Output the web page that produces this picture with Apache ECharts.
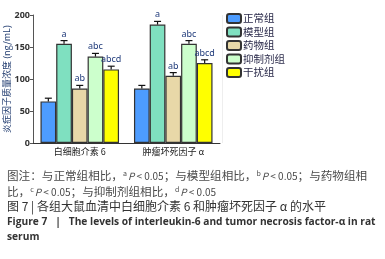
<!DOCTYPE html>
<html>
<head>
<meta charset="utf-8">
<script src="https://cdn.jsdelivr.net/npm/echarts@6/dist/echarts.min.js"></script>
<style>
  html, body { margin: 0; padding: 0; background: #fff; }
  #chart { width: 385px; height: 259px; }
</style>
</head>
<body>
<div id="chart"></div>
<script>
const categories = ['白细胞介素 6', '肿瘤坏死因子 α'];
const groupNames = ['正常组', '模型组', '药物组', '抑制剂组', '干扰组'];
const normalVals = [65, 85];
const modelVals = [155, 185];
const drugVals = [85, 105];
const inhibitorVals = [135, 155];
const interfereVals = [115, 125];
const normalErr = [5, 5];
const modelErr = [5, 5];
const drugErr = [5, 5];
const inhibitorErr = [5, 5];
const interfereErr = [5, 5];
const sigLabels = ['', 'a', 'ab', 'abc', 'abcd'];
const yTicks = [0, 50, 100, 150, 200];

const colors = ['#4d9cff', '#7fe0c0', '#e8d8a8', '#ccffcc', '#ffff00'];
const values = [normalVals, modelVals, drugVals, inhibitorVals, interfereVals];
const errors = [normalErr, modelErr, drugErr, inhibitorErr, interfereErr];
const catGap = 0.16;

const barSeries = groupNames.map((name, i) => ({
  name: name,
  type: 'bar',
  data: values[i],
  barGap: 0,
  barCategoryGap: (catGap * 100) + '%',
  itemStyle: { color: colors[i], borderColor: '#333', borderWidth: 1.2 },
  z: 2
}));

// error bars + significance letters
const errData = [];
groupNames.forEach((name, i) => {
  categories.forEach((c, j) => {
    errData.push([j, values[i][j], errors[i][j], i]);
  });
});

const errSeries = {
  type: 'custom',
  data: errData,
  z: 5,
  renderItem: function (params, api) {
    const cat = api.value(0);
    const v = api.value(1);
    const e = api.value(2);
    const gi = api.value(3);
    const bandW = api.size([1, 0])[0];
    const barW = bandW * (1 - catGap) / groupNames.length;
    const center = api.coord([cat, v]);
    const x = center[0] + (gi - (groupNames.length - 1) / 2) * barW;
    const top = api.coord([cat, v + e])[1];
    const base = center[1];
    const children = [
      { type: 'line', shape: { x1: x, y1: base, x2: x, y2: top }, style: { stroke: '#111', lineWidth: 1.2 } },
      { type: 'line', shape: { x1: x - 3.5, y1: top, x2: x + 3.5, y2: top }, style: { stroke: '#111', lineWidth: 1.2 } }
    ];
    if (sigLabels[gi]) {
      children.push({
        type: 'text',
        style: {
          text: sigLabels[gi], x: x, y: top - 2,
          align: 'center', verticalAlign: 'bottom',
          fill: '#1f3a7a', font: '9px "Noto Sans", sans-serif'
        }
      });
    }
    return { type: 'group', children: children };
  }
};

const capFont = '"Noto Sans CJK SC", "Noto Sans", sans-serif';
const capRich = {
  t: { fontSize: 11.6, fill: '#4a4a4a', fontFamily: capFont },
  l: { fontSize: 10, fill: '#4a4a4a', fontFamily: capFont },
  s: { fontSize: 7, fill: '#4a4a4a', fontFamily: capFont, verticalAlign: 'top', padding: [0, 1, 5, 0] },
  p: { fontSize: 10, fill: '#4a4a4a', fontStyle: 'italic', fontFamily: capFont }
};

const option = {
  animation: false,
  grid: { left: 33, right: 165, top: 15, bottom: 116 },
  legend: {
    orient: 'vertical',
    left: 226, top: 13,
    itemWidth: 14, itemHeight: 9, itemGap: 2.5,
    padding: 0,
    textStyle: { fontSize: 10.5, color: '#2a2a4a', fontFamily: capFont, padding: [0, 0, 0, -3] },
    data: groupNames
  },
  xAxis: {
    type: 'category',
    data: categories,
    axisLine: { lineStyle: { color: '#333', width: 1 } },
    axisTick: { show: false },
    axisLabel: { fontSize: 9, color: '#222', margin: 4, fontFamily: capFont }
  },
  yAxis: {
    type: 'value',
    min: yTicks[0], max: yTicks[yTicks.length - 1], interval: 50,
    name: '炎症因子质量浓度 (ng/mL)',
    nameLocation: 'middle', nameRotate: 90, nameGap: 19,
    nameTextStyle: { fontSize: 9, color: '#1f3a6e', fontFamily: capFont },
    axisLine: { show: true, lineStyle: { color: '#555', width: 1 } },
    axisTick: { show: true, length: 3, lineStyle: { color: '#555' } },
    axisLabel: { fontSize: 9, color: '#333', margin: 3, fontWeight: 'bold', fontFamily: '"Noto Sans", sans-serif' },
    splitLine: { show: false }
  },
  series: barSeries.concat([errSeries]),
  graphic: [
    { type: 'line', shape: { x1: 222.5, y1: 15, x2: 222.5, y2: 143 }, style: { stroke: '#eee', lineWidth: 1 } },
    {
      type: 'text', left: 7, top: 170,
      style: {
        text: '{t|图注：与正常组相比，}{s|a}{p|P}{l| < 0.05}{t|；与模型组相比，}{s|b}{p|P}{l| < 0.05}{t|；与药物组相}',
        rich: capRich
      }
    },
    {
      type: 'text', left: 7, top: 186,
      style: {
        text: '{t|比，}{s|c}{p|P}{l| < 0.05}{t|；与抑制剂组相比，}{s|d}{p|P}{l| < 0.05}',
        rich: capRich
      }
    },
    {
      type: 'text', left: 7, top: 200,
      style: { text: '图 7 | 各组大鼠血清中白细胞介素 6 和肿瘤坏死因子 α 的水平', font: '12px ' + capFont, fill: '#333' }
    },
    {
      type: 'text', left: 7, top: 217,
      style: { text: 'Figure 7   |   The levels of interleukin-6 and tumor necrosis factor-α in rat', font: 'bold 10.2px "Open Sans", sans-serif', fill: '#333' }
    },
    {
      type: 'text', left: 7, top: 232,
      style: { text: 'serum', font: 'bold 10.2px "Open Sans", sans-serif', fill: '#333' }
    }
  ]
};

const chart = echarts.init(document.getElementById('chart'));
chart.setOption(option);
</script>
</body>
</html>
